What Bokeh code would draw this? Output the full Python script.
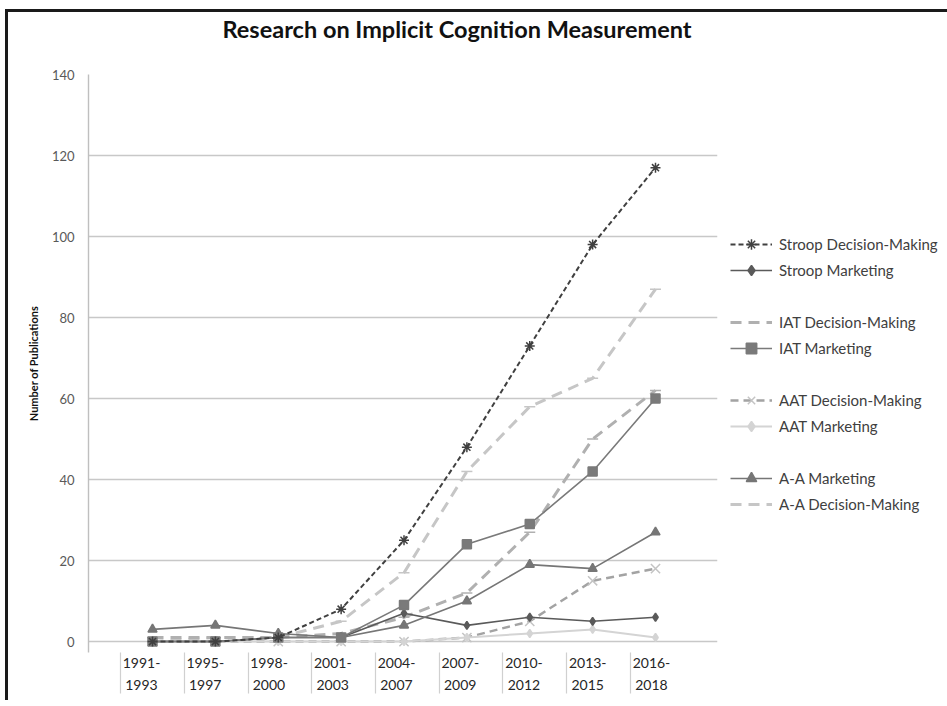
from bokeh.plotting import figure
from bokeh.models import Range1d, FixedTicker, Legend, LegendItem, Title
from bokeh.embed import file_html
from bokeh.resources import INLINE

# ---- data ----
periods = ["1991-\n1993", "1995-\n1997", "1998-\n2000", "2001-\n2003", "2004-\n2007",
           "2007-\n2009", "2010-\n2012", "2013-\n2015", "2016-\n2018"]
stroop_dm = [0, 0, 1, 8, 25, 48, 73, 98, 117]
stroop_mkt = [0, 0, 1, 1, 7, 4, 6, 5, 6]
iat_dm = [1, 1, 1, 2, 6, 12, 27, 50, 62]
iat_mkt = [0, 0, 1, 1, 9, 24, 29, 42, 60]
aat_dm = [0, 0, 0, 0, 0, 1, 5, 15, 18]
aat_mkt = [0, 0, 0, 0, 0, 1, 2, 3, 1]
aa_mkt = [3, 4, 2, 1, 4, 10, 19, 18, 27]
aa_dm = [0, 1, 1, 5, 17, 42, 58, 65, 87]
y_ticks = [0, 20, 40, 60, 80, 100, 120, 140]

xs = list(range(len(periods)))
FONT = "Lato"

p = figure(frame_width=629, frame_height=578,
           x_range=Range1d(-1.018, 8.986), y_range=Range1d(-2.7, 140),
           output_backend="svg", toolbar_location=None,
           min_border_left=80, min_border_right=226, min_border_top=62, min_border_bottom=48,
           background_fill_color="white", border_fill_color="white",
           outline_line_color=None)
p.styles = {"border-top": "3px solid #1a1a1a", "border-left": "3px solid #1a1a1a",
            "margin-left": "5px", "margin-top": "9px"}

# title (outermost), then an empty spacer panel between title and frame
p.title.text = "Research on Implicit Cognition Measurement"
p.title.align = "left"
p.title.offset = 134
p.title.standoff = 0
p.title.text_font = FONT
p.title.text_font_size = "23.5px"
p.title.text_font_style = "bold"
p.title.text_color = "#111111"
p.add_layout(Title(text=" ", text_font_size="26px", standoff=0), "above")

# grid / axes
p.xgrid.visible = False
p.ygrid.grid_line_color = "#c8c8c8"
p.ygrid.grid_line_width = 1.4

ya = p.yaxis[0]
ya.ticker = FixedTicker(ticks=y_ticks)
ya.axis_line_color = "#bfbfbf"
ya.axis_line_width = 1.4
ya.major_tick_line_color = None
ya.minor_tick_line_color = None
ya.major_label_standoff = 8
ya.major_label_text_font = FONT
ya.major_label_text_font_size = "13px"
ya.major_label_text_color = "#595959"
ya.axis_label = "Number of Publications"
ya.axis_label_text_font = FONT
ya.axis_label_text_font_size = "11px"
ya.axis_label_text_font_style = "bold"
ya.axis_label_text_color = "#111111"
ya.axis_label_standoff = 9

# category label / separator positions (label row is slightly wider-spaced than points)
stretch = 1.0139
label_pos = [-0.175 + stretch * i for i in xs]
sep_pos = [-0.509 + stretch * i for i in xs]
xa = p.xaxis[0]
xa.ticker = FixedTicker(ticks=label_pos, minor_ticks=sep_pos)
xa.major_label_overrides = {t: lab for t, lab in zip(label_pos, periods)}
xa.axis_line_color = None
xa.major_tick_line_color = None
xa.major_tick_out = 0
xa.major_tick_in = 0
xa.minor_tick_in = 0
xa.minor_tick_out = 41
xa.minor_tick_line_color = "#d0d0d0"
xa.minor_tick_line_width = 1.2
xa.major_label_standoff = -40
xa.major_label_text_font = FONT
xa.major_label_text_font_size = "14px"
xa.major_label_text_color = "#262626"
xa.major_label_text_line_height = 1.35

# ---- series ----
def series(vals, color, width, dash, marker, msize, mcolor=None):
    mcolor = mcolor or color
    ln = p.line(xs, vals, line_color=color, line_width=width, line_dash=dash)
    sc = None
    if marker:
        sc = p.scatter(xs, vals, marker=marker, size=msize, line_color=mcolor,
                       fill_color=mcolor, line_width=1.5)
    return ln, sc

r_aa_dm = series(aa_dm, "#c6c6c6", 3, "11 7", "dash", 11)
r_iat_dm = series(iat_dm, "#b0b0b0", 3, "11 7", "dash", 11)
r_aat_dm = series(aat_dm, "#a3a3a3", 2.5, "8 5", "x", 13, mcolor="#c4c4c4")
r_aat_mkt = series(aat_mkt, "#d4d4d4", 2, "solid", "diamond", 8)
r_stroop_mkt = series(stroop_mkt, "#5a5a5a", 1.6, "solid", "diamond", 8)
r_aa_mkt = series(aa_mkt, "#767676", 1.6, "solid", "triangle", 9)
r_iat_mkt = series(iat_mkt, "#7a7a7a", 1.6, "solid", "square", 9)
r_stroop_dm = series(stroop_dm, "#404040", 2, "5 3", "asterisk", 10)

# invisible spacer for the gaps between legend groups
spacer = p.line([], [], line_alpha=0)

items = [
    LegendItem(label="Stroop Decision-Making", renderers=list(r_stroop_dm)),
    LegendItem(label="Stroop Marketing", renderers=list(r_stroop_mkt)),
    LegendItem(label=" ", renderers=[spacer]),
    LegendItem(label="IAT Decision-Making", renderers=[r_iat_dm[0]]),
    LegendItem(label="IAT Marketing", renderers=list(r_iat_mkt)),
    LegendItem(label=" ", renderers=[spacer]),
    LegendItem(label="AAT Decision-Making", renderers=list(r_aat_dm)),
    LegendItem(label="AAT Marketing", renderers=list(r_aat_mkt)),
    LegendItem(label=" ", renderers=[spacer]),
    LegendItem(label="A-A Marketing", renderers=list(r_aa_mkt)),
    LegendItem(label="A-A Decision-Making", renderers=[r_aa_dm[0]]),
]
row = 26
n = len(items)
legend_top = 244 - row / 2
legend_bottom = legend_top + n * row
frame_bottom = 652
leg = Legend(items=items, location=(13, int(round(frame_bottom - legend_bottom))),
             padding=0, margin=0, spacing=0,
             glyph_width=42, glyph_height=row, label_height=row, label_standoff=7,
             label_text_font=FONT, label_text_font_size="15px",
             label_text_color="#404040",
             border_line_color=None, background_fill_alpha=0)
p.add_layout(leg, "right")

open("out.html", "w").write(file_html(p, INLINE))
